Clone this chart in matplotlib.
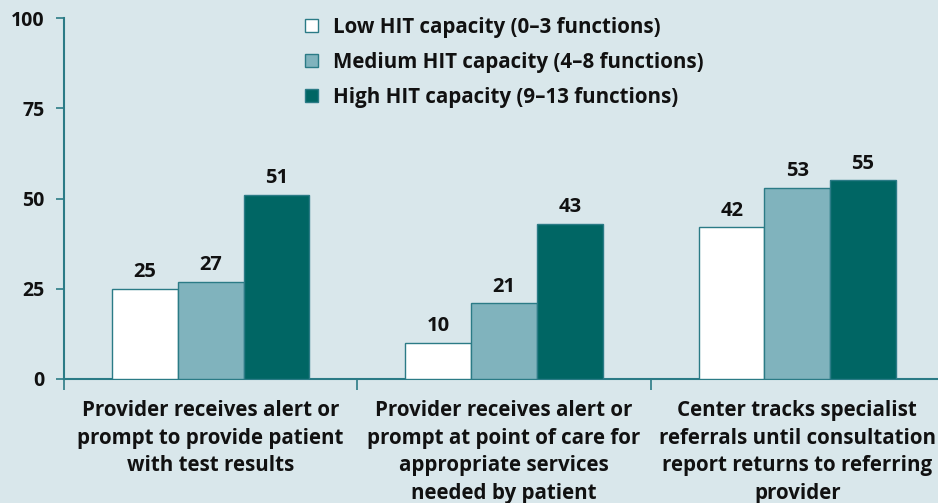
import matplotlib
matplotlib.use("Agg")
import matplotlib.pyplot as plt
import numpy as np

categories = [
    "Provider receives alert or\nprompt to provide patient\nwith test results",
    "Provider receives alert or\nprompt at point of care for\nappropriate services\nneeded by patient",
    "Center tracks specialist\nreferrals until consultation\nreport returns to referring\nprovider",
]
series_names = [
    "Low HIT capacity (0\u20133 functions)",
    "Medium HIT capacity (4\u20138 functions)",
    "High HIT capacity (9\u201313 functions)",
]
low = [25, 10, 42]
medium = [27, 21, 53]
high = [51, 43, 55]
yticks = [0, 25, 50, 75, 100]

bg = "#d9e7eb"
teal_axis = "#2b7b86"
colors = ["#ffffff", "#80b3bd", "#006664"]

plt.rcParams['font.family'] = ['Open Sans', 'DejaVu Sans']

fig = plt.figure(figsize=(9.38, 5.03), dpi=100, facecolor=bg)
ax = fig.add_axes([64/938, 124/503, 880/938, 361/503], facecolor=bg)

x = np.arange(len(categories))
w = 0.224
for i, (vals, c, name) in enumerate(zip([low, medium, high], colors, series_names)):
    bars = ax.bar(x + (i - 1) * w, vals, width=w, color=c, edgecolor=teal_axis,
                  linewidth=1, label=name, zorder=3)
    for b, v in zip(bars, vals):
        ax.text(b.get_x() + b.get_width() / 2, v + 1.8, str(v), ha='center', va='bottom',
                fontsize=14.5, fontweight='bold', color='#111111')

ax.set_xlim(-0.5, 2.5)
ax.set_ylim(0, 100)
ax.set_yticks(yticks)
ax.set_yticklabels([str(t) for t in yticks], fontsize=14, fontweight='bold', color='#111111')
ax.tick_params(axis='y', length=6, width=1.2, color=teal_axis, pad=8)

ax.set_xticks(x)
ax.set_xticklabels(categories, fontsize=14.8, fontweight='bold', color='#111111', linespacing=1.42)
ax.tick_params(axis='x', which='major', length=0, pad=15)
ax.set_xticks([-0.5, 0.5, 1.5, 2.5], minor=True)
ax.tick_params(axis='x', which='minor', length=8, width=1.2, color=teal_axis)

for s in ['top', 'right']:
    ax.spines[s].set_visible(False)
for s in ['left', 'bottom']:
    ax.spines[s].set_color(teal_axis)
    ax.spines[s].set_linewidth(1.5)

leg = ax.legend(loc='upper left', bbox_to_anchor=(222/880, 1.055), frameon=False,
                prop={'size': 14.8, 'weight': 'bold'}, handlelength=0.65, handleheight=0.65,
                handletextpad=0.75, labelspacing=0.68)
for t in leg.get_texts():
    t.set_color('#111111')

fig.savefig("out.png", dpi=100, facecolor=bg)
